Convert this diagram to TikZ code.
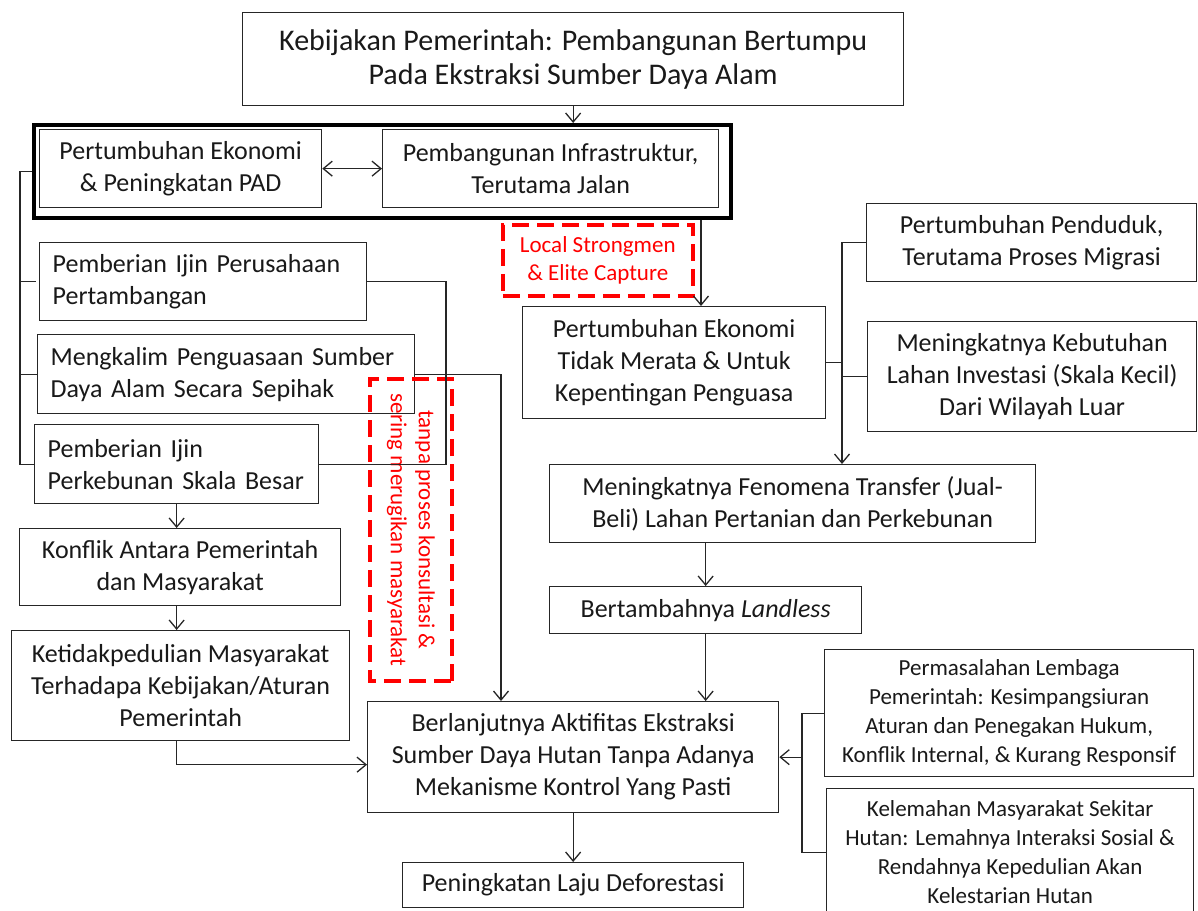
\documentclass[tikz,border=0pt]{standalone}
\usepackage{fontspec}
\setmainfont{Carlito}
\usetikzlibrary{arrows.meta,calc}
\begin{document}
\begin{tikzpicture}[x=1pt,y=-1pt,
  box/.style={draw=black!85, line width=1.3pt, inner sep=0pt, anchor=north west, align=center, text=black!90, font=\fontsize{26}{32}\selectfont},
  lbox/.style={box, align=left},
  sbox/.style={box, font=\fontsize{23}{29}\selectfont},
  redbox/.style={draw=red, dash pattern=on 17pt off 8pt, line width=3.5pt, inner sep=0pt, text=red, align=center, font=\fontsize{23}{28}\selectfont},
  line/.style={draw=black!85, line width=1.3pt},
  arr/.style={line, -{Straight Barb[length=9pt,width=15pt,line width=1.3pt]}},
  darr/.style={line, {Straight Barb[length=9pt,width=15pt,line width=1.3pt]}-{Straight Barb[length=9pt,width=15pt,line width=1.3pt]}}
]
\useasboundingbox (0,0) rectangle (1198,910);

% top
\node[box, minimum width=661, minimum height=93, font=\fontsize{30}{34}\selectfont] (top) at (242,12)
  {Kebijakan Pemerintah: Pembangunan Bertumpu\\Pada Ekstraksi Sumber Daya Alam};
% outer thick box
\node[draw=black, line width=3.5pt, inner sep=0pt, anchor=north west, minimum width=697, minimum height=93] (outer) at (32,123) {};
\node[box, minimum width=282, minimum height=78] (b1) at (39,129) {Pertumbuhan Ekonomi\\\& Peningkatan PAD};
\node[box, minimum width=336, minimum height=78] (b2) at (382,129) {Pembangunan Infrastruktur,\\Terutama Jalan};

% left column
\node[lbox, text width=301pt, inner xsep=13pt, minimum height=78] (pert) at (39,242) {Pemberian Ijin Perusahaan\\Pertambangan};
\node[lbox, text width=351pt, inner xsep=13pt, minimum height=79] (meng) at (37,334) {Mengkalim Penguasaan Sumber\\Daya Alam Secara Sepihak};
\node[lbox, text width=258pt, inner xsep=13pt, minimum height=79] (kebun) at (34,424) {Pemberian Ijin\\Perkebunan Skala Besar};
\node[box, minimum width=321, minimum height=77] (konf) at (19,528) {Konflik Antara Pemerintah\\dan Masyarakat};
\node[box, minimum width=338, minimum height=110] (ketid) at (11,630) {Ketidakpedulian Masyarakat\\Terhadapa Kebijakan/Aturan\\Pemerintah};

% red dashed boxes
\node[redbox, anchor=north west, minimum width=190, minimum height=71] (local) at (501,223) {Local Strongmen\\\& Elite Capture};
\node[redbox, rotate=-90, minimum width=302, minimum height=82] (tanpa) at (411,530) {tanpa proses konsultasi \&\\sering merugikan masyarakat};

% middle/right
\node[box, minimum width=303, minimum height=112] (merata) at (522,306) {Pertumbuhan Ekonomi\\Tidak Merata \& Untuk\\Kepentingan Penguasa};
\node[box, minimum width=330, minimum height=78] (pend) at (866,203) {Pertumbuhan Penduduk,\\Terutama Proses Migrasi};
\node[box, minimum width=329, minimum height=110] (kebut) at (867,321) {Meningkatnya Kebutuhan\\Lahan Investasi (Skala Kecil)\\Dari Wilayah Luar};
\node[box, minimum width=486, minimum height=78] (fenom) at (549,464) {Meningkatnya Fenomena Transfer (Jual-\\Beli) Lahan Pertanian dan Perkebunan};
\node[box, minimum width=312, minimum height=47] (landl) at (549,586) {Bertambahnya \textit{Landless}};
\node[box, minimum width=411, minimum height=111] (berl) at (367,701) {Berlanjutnya Aktifitas Ekstraksi\\Sumber Daya Hutan Tanpa Adanya\\Mekanisme Kontrol Yang Pasti};
\node[box, minimum width=341, minimum height=45] (defor) at (402,862) {Peningkatan Laju Deforestasi};
\node[sbox, minimum width=369, minimum height=127] (perm) at (824,649) {Permasalahan Lembaga\\Pemerintah: Kesimpangsiuran\\Aturan dan Penegakan Hukum,\\Konflik Internal, \& Kurang Responsif};
\node[sbox, minimum width=367, minimum height=127, anchor=north west] (kel) at (826,788) {Kelemahan Masyarakat Sekitar\\Hutan: Lemahnya Interaksi Sosial \&\\Rendahnya Kepedulian Akan\\Kelestarian Hutan};

% bus coordinates
\coordinate (busL) at (20,0);
\coordinate (jx) at (446,0);
\coordinate (mx) at (501,0);
\coordinate (ix) at (701,0);
\coordinate (rb) at (842,0);
\coordinate (lb) at (802,0);

% connectors
\draw[arr] (top.south) -- (top.south |- outer.north);
\draw[darr] (b1.east) -- (b2.west);
\draw[line] (outer.west) -| (busL |- kebun.west) -- (kebun.west);
\draw[line] (busL |- pert.west) -- ([xshift=-3pt]pert.west);
\draw[line] (busL |- meng.west) -- (meng.west);
\draw[line] (pert.east) -| (jx |- kebun.east) -- (kebun.east);
\draw[arr] (meng.east) -| (mx |- berl.north);
\draw[arr] (kebun.south) -- (kebun.south |- konf.north);
\draw[arr] (konf.south -| kebun.south) -- (ketid.north -| kebun.south);
\draw[arr] (ketid.south -| kebun.south) |- ($(berl.west)+(0,7.5)$);
\draw[arr] (ix |- outer.south) -- (ix |- merata.north);
\draw[arr] (pend.west) -| (rb |- fenom.north);
\draw[line] (merata.east) -- (rb |- merata.east);
\draw[line] (kebut.west) -- (rb |- kebut.west);
\draw[arr] (fenom.south -| landl.north) -- (landl.north);
\draw[arr] (landl.south) -- (landl.south |- berl.north);
\draw[arr] (berl.south) -- (defor.north);
\draw[line] (perm.west) -| (lb |- kel.west) -- (kel.west);
\draw[arr] (lb |- berl.east) -- (berl.east);
\end{tikzpicture}
\end{document}
